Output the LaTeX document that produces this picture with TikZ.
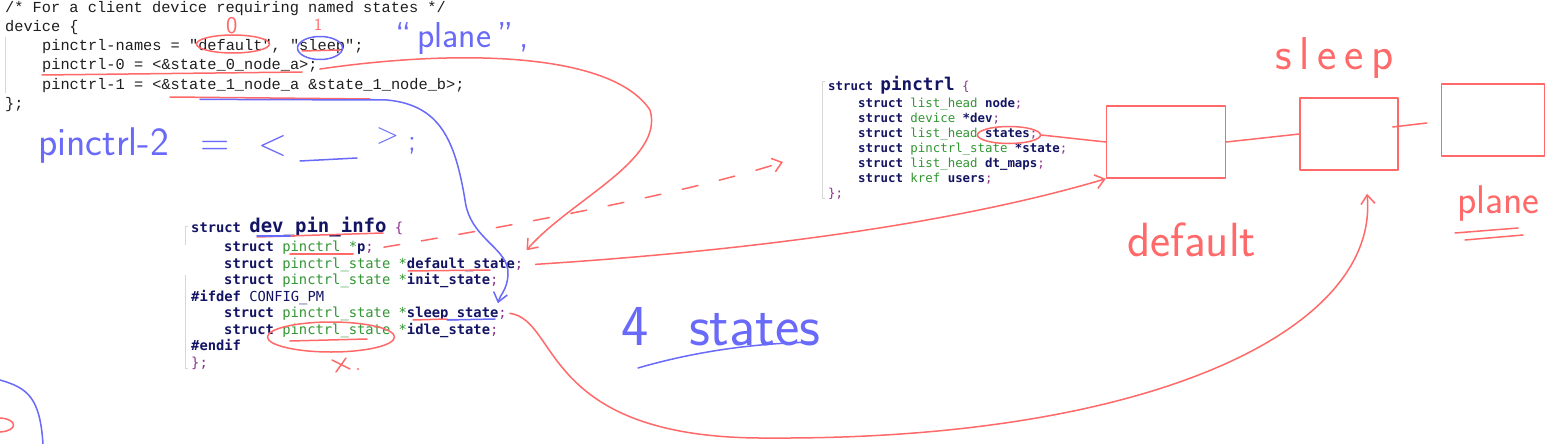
\documentclass[tikz,border=0pt]{standalone}
\usepackage{fontspec}
\usetikzlibrary{arrows.meta,shapes.geometric}
\newfontfamily\srcfont{Liberation Mono}
\newfontfamily\structfont{DejaVu Sans Mono}
\definecolor{penred}{RGB}{255,105,105}
\definecolor{penblue}{RGB}{105,105,250}
\definecolor{kwblue}{RGB}{20,20,100}
\definecolor{tygreen}{RGB}{50,150,50}
\definecolor{pupurple}{RGB}{140,50,140}
\definecolor{codegray}{RGB}{30,30,30}
\definecolor{guidegray}{RGB}{215,215,215}
\newcommand\kw[1]{\textcolor{kwblue}{\bfseries #1}}
\newcommand\ty[1]{\textcolor{tygreen}{#1}}
\newcommand\pu[1]{\textcolor{pupurple}{#1}}
\newcommand\dq{\symbol{34}}
\newcommand\hsz[1]{\sffamily\fontsize{#1}{#1}\selectfont}
\tikzset{
	srcline/.style={inner sep=0pt, anchor=base west, text=codegray, font=\srcfont\fontsize{15.3}{18}\selectfont},
	dpiline/.style={inner sep=0pt, anchor=base west, text=kwblue, font=\structfont\fontsize{13.8}{16}\selectfont},
	pcline/.style={inner sep=0pt, anchor=base west, text=kwblue, font=\structfont\fontsize{12.4}{15}\selectfont},
	redpen/.style={draw=penred, line width=1.5pt, line cap=round, line join=round},
	bluepen/.style={draw=penblue, line width=1.5pt, line cap=round, line join=round},
	redhand/.style={inner sep=0pt, anchor=base west, text=penred},
	bluehand/.style={inner sep=0pt, anchor=base west, text=penblue},
	guide/.style={draw=guidegray, line width=1pt},
	barb/.style={-{Straight Barb[length=9pt,width=14pt]}}
}
\begin{document}
\begin{tikzpicture}[x=1pt,y=-1pt]
		\fill[white] (0,0) rectangle (1553,444);
		\useasboundingbox (0,0) rectangle (1553,444);

		% device tree snippet
		\node[srcline] (dt0) at (5,13) {/* For a client device requiring named states */};
		\node[srcline] (dt1) at (5,32) {device \{};
		\node[srcline] (dt2) at (42,51) {pinctrl-names = \dq default\dq, \dq sleep\dq;};
		\node[srcline] (dt3) at (42,70) {pinctrl-0 = <\&state\_0\_node\_a>;};
		\node[srcline] (dt4) at (42,89) {pinctrl-1 = <\&state\_1\_node\_a \&state\_1\_node\_b>;};
		\node[srcline] (dt5) at (5,108) {\};};
		\draw[guide] (5,37) -- (5,93);

		% struct dev_pin_info
		\node[dpiline] (dpi0) at (191,232) {\kw{struct} {\fontsize{19}{19}\selectfont\kw{dev\_pin\_info}} \pu{\{}};
		\node[dpiline] (dpi1) at (224,251) {\kw{struct} \ty{pinctrl *}\kw{p}\pu{;}};
		\node[dpiline] (dpi2) at (224,268) {\kw{struct} \ty{pinctrl\_state *}\kw{default\_state}\pu{;}};
		\node[dpiline] (dpi3) at (224,284) {\kw{struct} \ty{pinctrl\_state *}\kw{init\_state}\pu{;}};
		\node[dpiline] (dpi4) at (191,301) {\kw{\#ifdef} CONFIG\_PM};
		\node[dpiline] (dpi5) at (224,317) {\kw{struct} \ty{pinctrl\_state *}\kw{sleep\_state}\pu{;}};
		\node[dpiline] (dpi6) at (224,334) {\kw{struct} \ty{pinctrl\_state *}\kw{idle\_state}\pu{;}};
		\node[dpiline] (dpi7) at (191,350) {\kw{\#endif}};
		\node[dpiline] (dpi8) at (191,367) {\pu{\};}};
		\draw[guide] (188,226) -- (185,226) -- (185,245);
		\draw[guide] (185,275) -- (185,368) -- (188,368);

		% struct pinctrl
		\node[pcline] (pc0) at (828,90) {\kw{struct} {\fontsize{17.6}{18}\selectfont\kw{pinctrl}} \pu{\{}};
		\node[pcline] (pc1) at (858,107) {\kw{struct} \ty{list\_head} \kw{node}\pu{;}};
		\node[pcline] (pc2) at (858,122) {\kw{struct} \ty{device} \kw{*dev}\pu{;}};
		\node[pcline] (pc3) at (858,137) {\kw{struct} \ty{list\_head} \kw{states}\pu{;}};
		\node[pcline] (pc4) at (858,152) {\kw{struct} \ty{pinctrl\_state} \kw{*state}\pu{;}};
		\node[pcline] (pc5) at (858,167) {\kw{struct} \ty{list\_head} \kw{dt\_maps}\pu{;}};
		\node[pcline] (pc6) at (858,182) {\kw{struct} \ty{kref} \kw{users}\pu{;}};
		\node[pcline] (pc7) at (828,197) {\pu{\};}};
		\draw[guide] (825,82) -- (822,82) -- (822,198) -- (825,198);

		% list of states
		\node[redpen, ellipse, minimum width=63pt, minimum height=17pt] (statesring) at (1009,135) {};
		\node[redpen, minimum width=119pt, minimum height=72pt] (box1) at (1166,142) {};
		\node[redpen, minimum width=98pt, minimum height=72pt] (box2) at (1349,134) {};
		\node[redpen, minimum width=103pt, minimum height=72pt] (box3) at (1493,120) {};
		\draw[redpen] (statesring.east) -- (box1.west);
		\draw[redpen] (box1.east) -- (box2.west);
		\draw[redpen] ([xshift=-6pt,yshift=7pt]box2.east) -- ([xshift=-14pt,yshift=-3pt]box3.west);
		\node[redhand, font=\hsz{48}] (lbldefault) at (1127,256) {default};
		\node[redhand, font=\hsz{46}] (lblsleep) at (1275,70) {s\,l\,e\,e\,p};
		\node[redhand, font=\hsz{40}] (lblplane) at (1457,213) {plane};
		\draw[redpen] (1455,233) -- (1518,228);
		\draw[redpen] (1465,240) -- (1523,235);

		% marks on the device tree
		\node[redhand, font=\hsz{24}] (mark0) at (226,34) {0};
		\node[redhand, font=\hsz{17}] (mark1) at (314,31) {1};
		\node[redpen, ellipse, minimum width=73pt, minimum height=18pt] (ringdefault) at (233,44) {};
		\node[bluepen, ellipse, minimum width=45pt, minimum height=23pt] (ringsleep) at (320,48) {};
		\draw[redpen] (302,51) -- (340,50);
		\draw[redpen] (42,75) -- (302,72);
		\draw[redpen] (170,97) -- (370,99);
		\node[bluehand, font=\hsz{36}] (lblquoted) at (395,48) {``\,plane\,''\,,};

		% pinctrl-2 note
		\node[bluehand, font=\hsz{40}] (pin2) at (38,155) {pinctrl-2};
		\node[bluehand, font=\hsz{40}] (pin2eq) at (200,155) {=};
		\node[bluehand, font=\hsz{38}] (pin2lt) at (258,155) {<};
		\draw[bluepen] (300,161) -- (357,158);
		\node[bluehand, font=\hsz{30}] (pin2gt) at (376,143) {>};
		\node[bluehand, font=\hsz{30}] (pin2semi) at (408,150) {;};

		% marks on dev_pin_info
		\draw[redpen] (257,237) -- (383,233);
		\draw[bluepen] (257,236) -- (290,236);
		\draw[redpen] (290,254) -- (353,254);
		\draw[redpen] (408,271) -- (490,270);
		\draw[redpen] (413,320) -- (447,319);
		\draw[bluepen] (447,320) -- (495,319);
		\node[redpen, ellipse, minimum width=127pt, minimum height=30pt] (ringidle) at (331,337) {};
		\draw[redpen] (290,341) -- (367,339);
		\draw[redpen] (332,360) -- (350,369) (346,358) -- (336,372);
		\fill[penred] (358,369) circle (1.2);
		\node[bluehand, font=\hsz{58}] (lblfour) at (621,345) {4\hspace{0.7em}states};
		\draw[bluepen] (638,368) .. controls (700,350) and (760,343) .. (816,342);

		% connectors
		\coordinate (dashend) at (783,162);
		\draw[redpen, barb] ([xshift=2pt,yshift=-3pt]dt3.east) .. controls (450,50) and (610,50) .. (650,110) .. controls (665,160) and (570,200) .. ([xshift=3pt,yshift=7pt]dpi2.north east);
		\draw[redpen, barb] ([xshift=12pt]dpi2.east) .. controls (760,250) and (960,222) .. (box1.south west);
		\draw[bluepen, barb] ([xshift=158pt,yshift=-7pt]dt4.south west) -- (387,100) .. controls (440,105) and (455,140) .. (465,200) .. controls (470,240) and (510,248) .. (508,275) .. controls (507,290) and (500,295) .. ([xshift=-9pt,yshift=3pt]dpi5.north east);
		\draw[redpen, barb] ([xshift=3pt]dpi5.east) .. controls (560,320) and (540,440) .. (770,438) .. controls (1150,440) and (1380,330) .. ([xshift=18pt,yshift=-23pt]box2.south);
		\draw[redpen, barb, dash pattern=on 16pt off 22pt] ([xshift=10pt]dpi1.east) .. controls (500,228) and (680,195) .. (dashend);

		% bottom left strokes
		\draw[bluepen] (0,380) .. controls (28,388) and (40,398) .. (43,444);
		\draw[redpen] (0,418) .. controls (18,419) and (18,431) .. (0,432);
	\end{tikzpicture}
\end{document}
